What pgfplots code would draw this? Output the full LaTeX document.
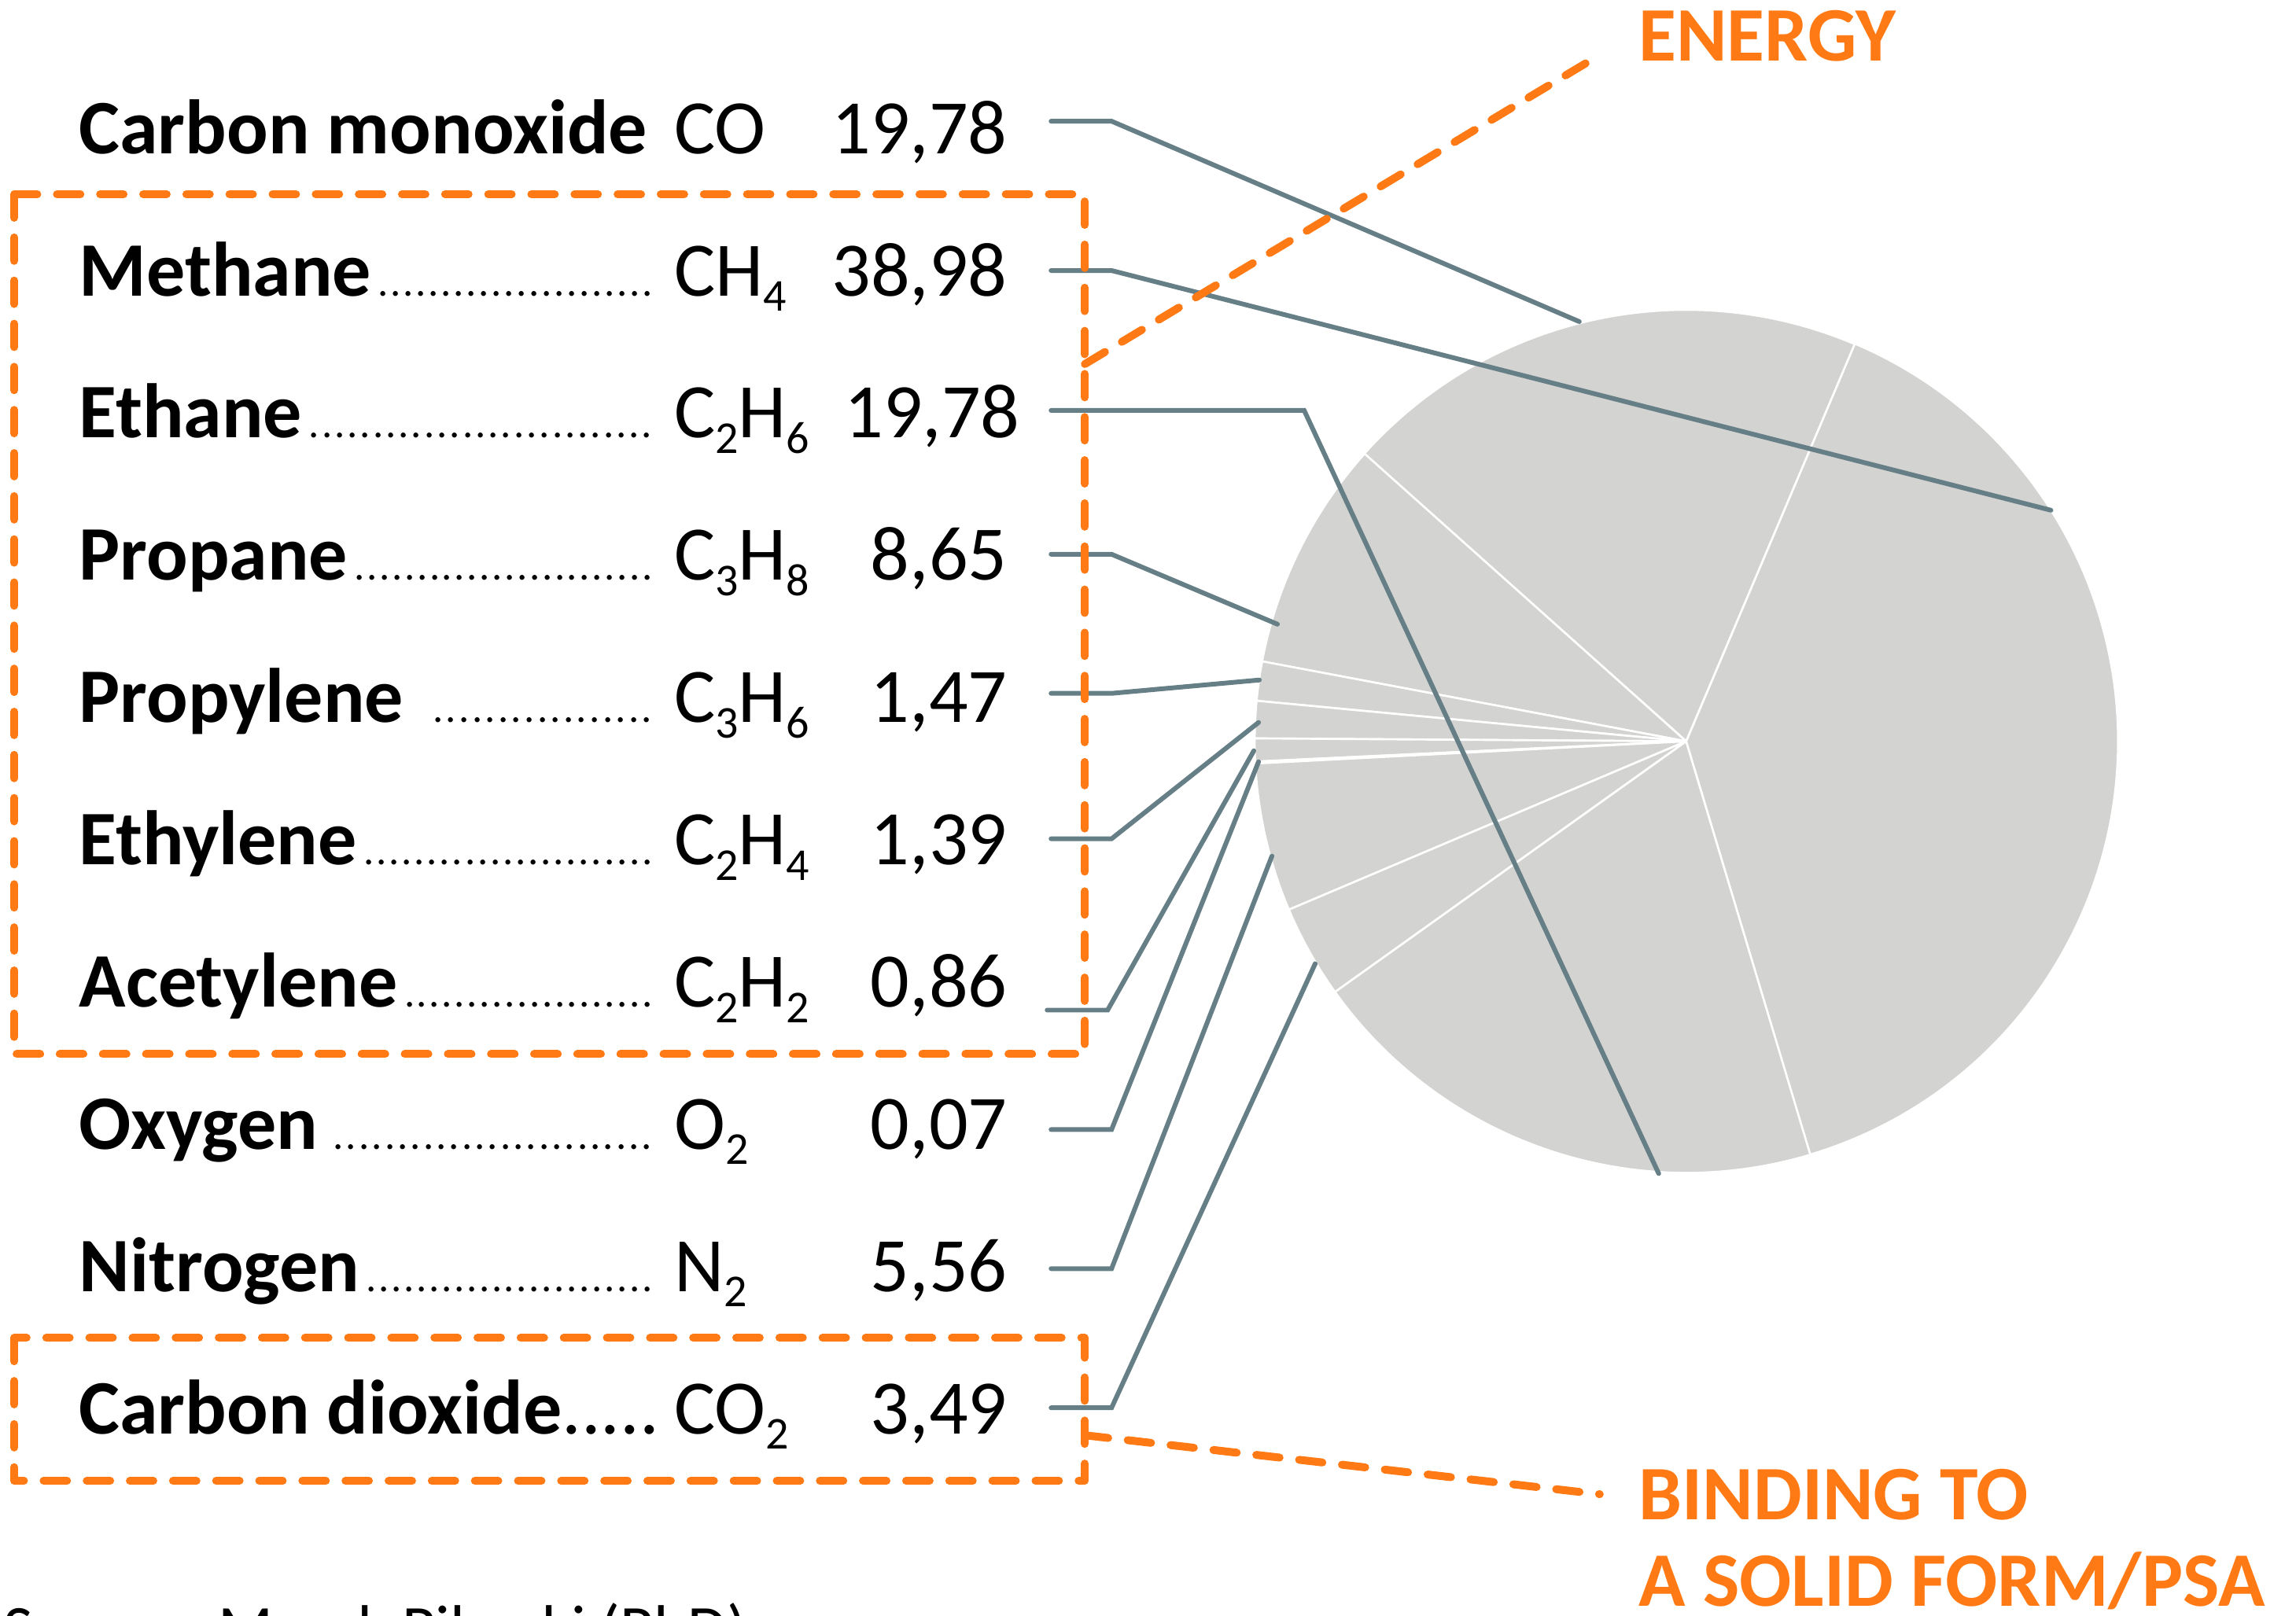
\documentclass[border=0pt]{standalone}
\usepackage{pgfplots}
\pgfplotsset{compat=1.18}
\usepackage{pgfplotstable}
\usepackage{fontspec}
\setmainfont{Carlito}

\definecolor{wedgegray}{RGB}{211,211,209}
\definecolor{leadercol}{RGB}{102,127,135}
\definecolor{accent}{RGB}{255,122,20}

% gas composition (%), in the order the slices run counter-clockwise
\pgfplotstableread{
gas   share
CO    19.78
C3H8  8.65
C3H6  1.47
C2H4  1.39
C2H2  0.86
O2    0.07
N2    5.56
CO2   3.49
C2H6  19.78
CH4   38.98
}\piedata

\newcommand\lbl{\fontsize{27.9pt}{33pt}\selectfont}
\newcommand\sub[1]{\raisebox{-0.2em}{\fontsize{16.5pt}{16.5pt}\selectfont #1}}
\newcommand\dotlead{\xleaders\hbox to 4.5pt{\hss\fontsize{15pt}{15pt}\selectfont.\hss}\hfill}
\newcommand\name[2][2pt]{\makebox[7.31cm][l]{\textbf{#2}\hspace{#1}\dotlead}}

\tikzset{
  leader/.style={draw=leadercol, line width=1.7pt, line cap=round, line join=miter},
  frame/.style={accent, line width=2.85pt, line cap=round, line join=round,
                dash pattern=on 8.5pt off 7.1pt},
  row/.style={anchor=base west, inner sep=0pt, font=\lbl},
  val/.style={anchor=base east, inner sep=0pt, font=\lbl},
}

\begin{document}
\begin{tikzpicture}
\pgfplotstablegetrowsof{\piedata}
\pgfmathtruncatemacro\nrows{\pgfplotsretval-1}
\gdef\total{0}
\pgfplotsforeachungrouped \i in {0,...,\nrows}{%
  \pgfplotstablegetelem{\i}{share}\of\piedata
  \pgfmathsetmacro\tmp{\total+\pgfplotsretval}%
  \xdef\total{\tmp}%
}
\begin{axis}[
  at={(0,0)}, anchor=south west,
  x=0.01cm, y=0.01cm,
  xmin=0, xmax=2919, ymin=0, ymax=2054,
  y dir=reverse,
  hide axis, clip=false,
]
% pie slices
\xdef\angA{67.0}
\pgfplotsforeachungrouped \i in {0,...,\nrows}{%
  \pgfplotstablegetelem{\i}{share}\of\piedata
  \pgfmathsetmacro\angB{\angA+\pgfplotsretval/\total*360}%
  \pgfmathsetmacro\px{2145+549*cos(\angA)}%
  \pgfmathsetmacro\py{942-549*sin(\angA)}%
  \edef\wedgecmd{\noexpand\fill[wedgegray, draw=white, line width=0.75pt, line join=round]
    (axis cs:2145,942) -- (axis cs:\px,\py)
    arc[start angle=\angA, end angle=\angB, radius=5.49cm] -- cycle;}%
  \wedgecmd
  \xdef\angA{\angB}%
}

% leader lines
\addplot[leader, no markers] coordinates {(1337,153) (1414,153) (2009,408)};
\addplot[leader, no markers] coordinates {(1337,343) (1414,343) (2609,648)};
\addplot[leader, no markers] coordinates {(1337,521) (1659,521) (2110,1492)};
\addplot[leader, no markers] coordinates {(1337,704) (1414,704) (1625,793)};
\addplot[leader, no markers] coordinates {(1337,881) (1414,881) (1602,864)};
\addplot[leader, no markers] coordinates {(1337,1066) (1414,1066) (1601,918)};
\addplot[leader, no markers] coordinates {(1332,1284) (1409,1284) (1595,954)};
\addplot[leader, no markers] coordinates {(1337,1436) (1414,1436) (1601,968)};
\addplot[leader, no markers] coordinates {(1337,1613) (1414,1613) (1618,1088)};
\addplot[leader, no markers] coordinates {(1337,1790) (1414,1790) (1673,1225)};

% groupings
\draw[frame] (axis cs:18,246) rectangle (axis cs:1380,1340);
\draw[frame] (axis cs:18,1701) rectangle (axis cs:1380,1883);
\draw[frame] (axis cs:1380,462) -- (axis cs:2036,68);
\draw[frame] (axis cs:1380,1825) -- (axis cs:2035,1900);

% table of components
\node[row] at (axis cs:100,194) {\textbf{Carbon monoxide}};
\node[row] at (axis cs:100,375) {\name{Methane}};
\node[row] at (axis cs:100,556) {\name{Ethane}};
\node[row] at (axis cs:100,737) {\name{Propane}};
\node[row] at (axis cs:100,918) {\name[10pt]{Propylene}};
\node[row] at (axis cs:100,1099) {\name{Ethylene}};
\node[row] at (axis cs:100,1280) {\name{Acetylene}};
\node[row] at (axis cs:100,1461) {\name[5pt]{Oxygen}};
\node[row] at (axis cs:100,1642) {\name{Nitrogen}};
\node[row] at (axis cs:100,1823) {\textbf{Carbon dioxide}.....};

\node[row] at (axis cs:857,194) {CO};
\node[row] at (axis cs:857,375) {CH\sub{4}};
\node[row] at (axis cs:857,556) {C\sub{2}H\sub{6}};
\node[row] at (axis cs:857,737) {C\sub{3}H\sub{8}};
\node[row] at (axis cs:857,918) {C\sub{3}H\sub{6}};
\node[row] at (axis cs:857,1099) {C\sub{2}H\sub{4}};
\node[row] at (axis cs:857,1280) {C\sub{2}H\sub{2}};
\node[row] at (axis cs:857,1461) {O\sub{2}};
\node[row] at (axis cs:857,1642) {N\sub{2}};
\node[row] at (axis cs:857,1823) {CO\sub{2}};

\node[val] at (axis cs:1282,194) {19,78};
\node[val] at (axis cs:1282,375) {38,98};
\node[val] at (axis cs:1298,556) {19,78};
\node[val] at (axis cs:1282,737) {8,65};
\node[val] at (axis cs:1282,918) {1,47};
\node[val] at (axis cs:1282,1099) {1,39};
\node[val] at (axis cs:1282,1280) {0,86};
\node[val] at (axis cs:1282,1461) {0,07};
\node[val] at (axis cs:1282,1642) {5,56};
\node[val] at (axis cs:1282,1823) {3,49};

\node[row, text=accent] at (axis cs:2084,76) {\textbf{ENERGY}};
\node[row, text=accent] at (axis cs:2084,1932) {\textbf{BINDING TO}};
\node[row, text=accent] at (axis cs:2084,2042) {\textbf{A SOLID FORM/PSA}};

\node[anchor=base west, inner sep=0pt, font=\fontsize{23.3pt}{28pt}\selectfont]
  at (axis cs:4,2098) {Source: Marek Pilarski (PhD)};
\end{axis}
\pgfresetboundingbox
\useasboundingbox (0,0) rectangle (29.19cm,20.54cm);
\end{tikzpicture}
\end{document}
